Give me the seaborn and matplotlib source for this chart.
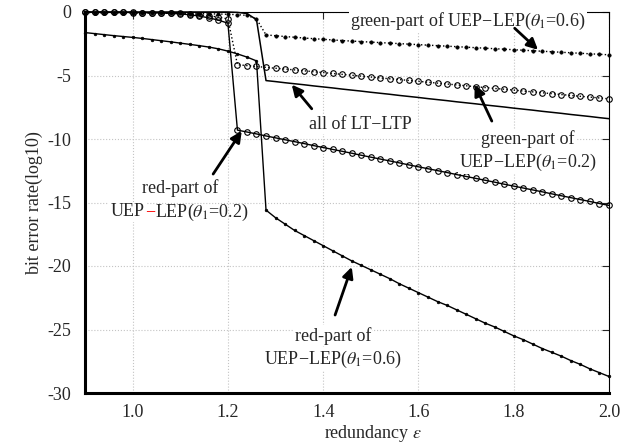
import numpy as np
import pandas as pd
import matplotlib
matplotlib.use("Agg")
import matplotlib.pyplot as plt
import seaborn as sns

# ---------------- data ----------------
redundancy = [0.90, 0.92, 0.94, 0.96, 0.98, 1.00, 1.02, 1.04, 1.06, 1.08,
              1.10, 1.12, 1.14, 1.16, 1.18, 1.20, 1.22, 1.24, 1.26, 1.28,
              1.30, 1.32, 1.34, 1.36, 1.38, 1.40, 1.42, 1.44, 1.46, 1.48,
              1.50, 1.52, 1.54, 1.56, 1.58, 1.60, 1.62, 1.64, 1.66, 1.68,
              1.70, 1.72, 1.74, 1.76, 1.78, 1.80, 1.82, 1.84, 1.86, 1.88,
              1.90, 1.92, 1.94, 1.96, 1.98, 2.00]

lt_ltp = [0, 0, 0, 0, 0, 0, 0, 0, 0, 0, 0, 0, 0, 0, 0, 0, -0.03, -0.12, -0.60,
          -5.40, -5.48, -5.57, -5.65, -5.73, -5.82, -5.90, -5.98, -6.07, -6.15,
          -6.23, -6.32, -6.40, -6.48, -6.57, -6.65, -6.73, -6.82, -6.90, -6.98,
          -7.07, -7.15, -7.23, -7.32, -7.40, -7.48, -7.57, -7.65, -7.73, -7.82,
          -7.90, -7.98, -8.07, -8.15, -8.23, -8.32, -8.40]

green_06 = [-0.05, -0.05, -0.06, -0.06, -0.07, -0.07, -0.08, -0.08, -0.09, -0.10,
            -0.11, -0.12, -0.13, -0.14, -0.16, -0.18, -0.21, -0.27, -0.55,
            -1.80, -1.87, -1.93, -1.99, -2.05, -2.10, -2.15, -2.20, -2.25, -2.29,
            -2.33, -2.37, -2.41, -2.45, -2.49, -2.53, -2.57, -2.61, -2.65, -2.69,
            -2.73, -2.77, -2.81, -2.85, -2.89, -2.93, -2.97, -3.01, -3.05, -3.09,
            -3.13, -3.17, -3.21, -3.25, -3.29, -3.33, -3.37]

green_02 = [0.00, -0.01, -0.01, -0.02, -0.02, -0.03, -0.04, -0.05, -0.06, -0.08,
            -0.11, -0.16, -0.22, -0.30, -0.40, -0.55,
            -4.15, -4.22, -4.29, -4.36, -4.43, -4.49, -4.56, -4.63, -4.70, -4.77,
            -4.84, -4.91, -4.98, -5.05, -5.12, -5.19, -5.26, -5.32, -5.39, -5.46,
            -5.53, -5.60, -5.67, -5.74, -5.81, -5.88, -5.95, -6.02, -6.08, -6.15,
            -6.22, -6.29, -6.36, -6.43, -6.50, -6.57, -6.64, -6.70, -6.77, -6.84]

red_02 = [0.00, -0.01, -0.01, -0.02, -0.03, -0.04, -0.05, -0.06, -0.08, -0.11,
          -0.15, -0.22, -0.32, -0.46, -0.64, -0.88,
          -9.30, -9.45, -9.60, -9.76, -9.91, -10.06, -10.21, -10.36, -10.52, -10.67,
          -10.82, -10.97, -11.12, -11.28, -11.43, -11.58, -11.73, -11.88, -12.04, -12.19,
          -12.34, -12.49, -12.64, -12.80, -12.95, -13.10, -13.25, -13.40, -13.56, -13.71,
          -13.86, -14.01, -14.16, -14.32, -14.47, -14.62, -14.77, -14.92, -15.08, -15.23]

red_06 = [-1.62, -1.70, -1.78, -1.86, -1.93, -2.00, -2.08, -2.17, -2.26, -2.35,
          -2.45, -2.55, -2.65, -2.76, -2.90, -3.08, -3.30, -3.55, -3.85,
          -15.6, -16.2, -16.7, -17.2, -17.6, -18.0, -18.4, -18.8, -19.2, -19.6,
          -19.95, -20.3, -20.65, -21.0, -21.4, -21.75, -22.1, -22.45, -22.8, -23.1,
          -23.45, -23.8, -24.15, -24.5, -24.8, -25.15, -25.5, -25.8, -26.15, -26.5,
          -26.8, -27.1, -27.45, -27.75, -28.1, -28.4, -28.7]

x_ticks = [1.0, 1.2, 1.4, 1.6, 1.8, 2.0]
x_ticklabels = ["1.0", "1.2", "1.4", "1.6", "1.8", "2.0"]
y_ticks = [0, -5, -10, -15, -20, -25, -30]
y_ticklabels = ["0", "-5", "-10", "-15", "-20", "-25", "-30"]

# ---------------- style ----------------
sns.set_style("white")
plt.rcParams["font.family"] = ["Liberation Serif", "DejaVu Serif"]
plt.rcParams["mathtext.fontset"] = "stix"
plt.rcParams["axes.unicode_minus"] = False

fig = plt.figure(figsize=(6.3, 4.43), dpi=100)
ax = fig.add_axes([85 / 630, 1 - 393 / 443, (609 - 85) / 630, (393 - 12) / 443])

df = pd.DataFrame({"x": redundancy, "lt": lt_ltp, "g06": green_06,
                   "g02": green_02, "r02": red_02, "r06": red_06})

sns.lineplot(data=df, x="x", y="lt", ax=ax, color="k", lw=1.1, clip_on=False)
sns.lineplot(data=df, x="x", y="g06", ax=ax, color="k", lw=1.0, linestyle=":",
             marker="o", markersize=2.4, mfc="k", mec="k", mew=0.5, clip_on=False)
sns.lineplot(data=df, x="x", y="g02", ax=ax, color="k", lw=1.0, linestyle=":",
             marker="o", markersize=4.0, mfc="none", mec="k", mew=0.8, clip_on=False)
sns.lineplot(data=df, x="x", y="r02", ax=ax, color="k", lw=1.0, linestyle="-",
             marker="o", markersize=4.0, mfc="none", mec="k", mew=0.8, clip_on=False)
sns.lineplot(data=df, x="x", y="r06", ax=ax, color="k", lw=1.0, linestyle="-",
             marker="o", markersize=2.0, mfc="k", mec="k", mew=0.4, clip_on=False)

ax.set_xlim(0.9, 2.0)
ax.set_ylim(-30, 0)
ax.set_xticks(x_ticks)
ax.set_xticklabels(x_ticklabels)
ax.set_yticks(y_ticks)
ax.set_yticklabels(y_ticklabels)
ax.tick_params(direction="in", top=True, right=True, length=5, labelsize=13)
ax.tick_params(axis="x", pad=8)
ax.tick_params(axis="y", pad=10)
for t in ax.xaxis.get_major_ticks():
    t.tick1line.set_markeredgewidth(2.0)
    t.tick2line.set_markeredgewidth(0.8)
for t in ax.yaxis.get_major_ticks():
    t.tick1line.set_markeredgewidth(2.0)
    t.tick2line.set_markeredgewidth(0.8)

for s in ["left", "bottom"]:
    ax.spines[s].set_linewidth(2.2)
for s in ["top", "right"]:
    ax.spines[s].set_linewidth(0.8)
for s in ax.spines.values():
    s.set_color("k")

ax.grid(True, linestyle=":", color="#c4c4c4", linewidth=0.8)

ax.set_xlabel("redundancy $\\varepsilon$", fontsize=13)
ax.set_ylabel("bit error rate(log10)", fontsize=13)
ax.xaxis.set_label_coords(0.55, -0.08)
ax.yaxis.set_label_coords(-0.08, 0.5)

# ---------------- annotations ----------------
box = dict(facecolor="white", edgecolor="none", pad=1.0)
afs = 13
arrow = dict(arrowstyle="-|>,head_length=0.65,head_width=0.32", color="k", lw=2.0,
             shrinkA=0, shrinkB=0, mutation_scale=10)

def label(x, y, s):
    ax.text(x, y, s, ha="center", va="center", fontsize=afs, bbox=box, zorder=4)

def arr(tail, tip):
    ax.annotate("", xy=tip, xytext=tail, arrowprops=arrow, zorder=5)

label(1.704, -0.72, "green-part of UEP\u2212LEP($\\theta_1$=0.6)")
arr((1.802, -1.28), (1.851, -2.98))

label(1.479, -8.85, "all of LT\u2212LTP")
arr((1.376, -7.62), (1.334, -5.72))

label(1.83, -10.02, "green-part of")
label(1.83, -11.82, "UEP\u2212LEP($\\theta_1$=0.2)")
arr((1.754, -8.59), (1.718, -5.72))

label(1.099, -13.86, "red-part of")
# second line with a red minus sign
yb = -16.1
p1 = ax.text(0.9567, yb, "UEP", ha="left", va="baseline", fontsize=afs, bbox=box, zorder=4)
p2 = ax.annotate("\u2212", xy=(1, yb), xycoords=(p1, "data"), ha="left", va="baseline",
                 fontsize=afs, color="red", zorder=6)
p3 = ax.annotate("LEP($\\theta_1$=0.2)", xy=(1, yb), xycoords=(p2, "data"), ha="left",
                 va="baseline", fontsize=afs, zorder=5)
arr((1.169, -12.76), (1.229, -9.37))

label(1.42, -25.5, "red-part of")
label(1.42, -27.35, "UEP\u2212LEP($\\theta_1$=0.6)")
arr((1.425, -23.86), (1.46, -20.07))

# center the chained line
fig.canvas.draw()
r = fig.canvas.get_renderer()
b1 = p1.get_window_extent(r)
b3 = p3.get_window_extent(r)
w = b3.x1 - b1.x0
cx_px = ax.transData.transform((1.099, yb))[0]
new_left = ax.transData.inverted().transform((cx_px - w / 2, 0))[0]
p1.set_x(new_left)

fig.savefig("out.png", dpi=100)
